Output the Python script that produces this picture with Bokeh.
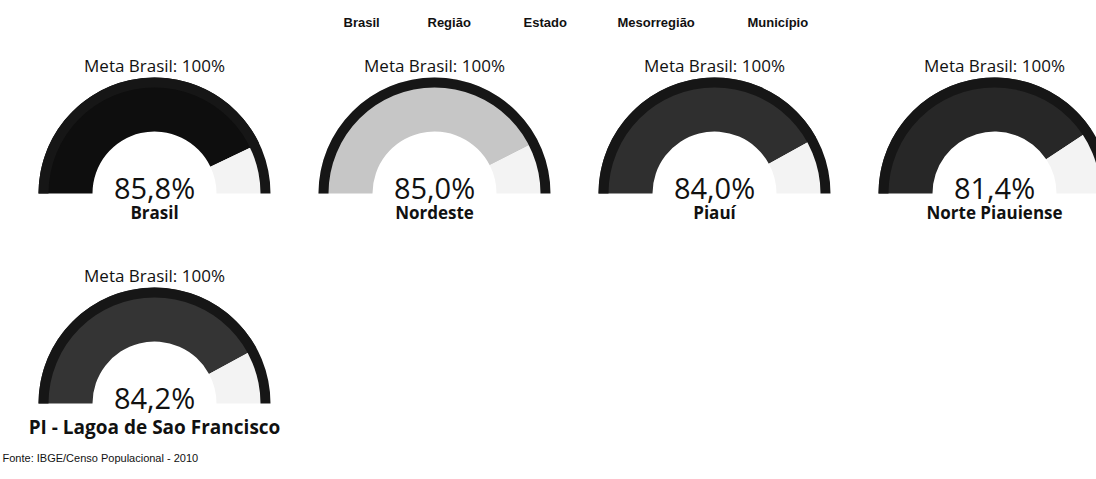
import math
from bokeh.plotting import figure
from bokeh.models import ColumnDataSource
from bokeh.core.properties import value
from bokeh.embed import file_html
from bokeh.resources import INLINE

# ---- data ----
regions = ["Brasil", "Nordeste", "Piauí", "Norte Piauiense", "PI - Lagoa de Sao Francisco"]
values = [85.8, 85.0, 84.0, 81.4, 84.2]
goal_label = "Meta Brasil: 100%"
legend_labels = ["Brasil", "Região", "Estado", "Mesorregião", "Município"]
source_note = "Fonte: IBGE/Censo Populacional - 2010"

# ---- style / layout ----
fill_colors = ["#0e0e0e", "#c6c6c6", "#2f2f2f", "#272727", "#343434"]
name_sizes = [17, 17, 17, 17, 19]
rest_color = "#f3f3f3"
ring_color = "#161616"
W, H = 1096, 479
R_OUT, R_RING, R_IN = 116, 106, 62
n_cols = 4
x0, dx = 154, 280
y0, dy = H - 193, 210

cx = [x0 + dx * (i % n_cols) for i in range(len(regions))]
cy = [y0 - dy * (i // n_cols) for i in range(len(regions))]
val_angle = [math.pi * (1 - v / 100.0) for v in values]
val_text = [("%.1f%%" % v).replace(".", ",") for v in values]

src = ColumnDataSource(dict(
    x=cx, y=cy, a=val_angle, fill=fill_colors, name=regions, vt=val_text,
    goal=[goal_label] * len(regions),
    fs=["%dpx" % s for s in name_sizes],
    y_goal=[c + 128 for c in cy], y_val=[c + 6 for c in cy],
    y_name=[c - 19 - 2 * (s - 17) for c, s in zip(cy, name_sizes)],
))

p = figure(width=W, height=H, x_range=(0, W), y_range=(0, H),
           output_backend="svg", toolbar_location=None,
           x_axis_type=None, y_axis_type=None, min_border=0)
p.grid.visible = False
p.outline_line_color = None
p.background_fill_color = "white"

# filled portion
p.annular_wedge(x="x", y="y", inner_radius=R_IN, outer_radius=R_OUT,
                start_angle="a", end_angle=math.pi, fill_color="fill",
                line_color=None, source=src)
# remaining portion
p.annular_wedge(x="x", y="y", inner_radius=R_IN, outer_radius=R_RING,
                start_angle=0, end_angle="a", fill_color=rest_color,
                line_color=None, source=src)
# outer ring
p.annular_wedge(x="x", y="y", inner_radius=R_RING, outer_radius=R_OUT,
                start_angle=0, end_angle=math.pi, fill_color=ring_color,
                line_color=None, source=src)

p.text(x="x", y="y_goal", text="goal", source=src, text_align="center",
       text_baseline="middle", text_font=value("Open Sans"),
       text_font_size="17px", text_color="#111111")
p.text(x="x", y="y_val", text="vt", source=src, text_align="center",
       text_baseline="middle", text_font=value("Open Sans"),
       text_font_size="29px", text_color="#111111")
p.text(x="x", y="y_name", text="name", source=src, text_align="center",
       text_baseline="middle", text_font=value("Open Sans"),
       text_font_style="bold", text_font_size="fs", text_color="#111111")

# legend (text only; its markers are not visible in the original)
leg_x = [343, 427, 523, 617, 747]
p.text(x=leg_x, y=[H - 22] * len(legend_labels), text=legend_labels,
       text_align="left", text_baseline="middle", text_font=value("Liberation Sans"),
       text_font_style="bold", text_font_size="13px", text_color="#111111")

p.text(x=[2], y=[H - 457], text=[source_note], text_align="left", text_baseline="middle",
       text_font=value("Liberation Sans"), text_font_size="11px", text_color="#111111")

open("out.html", "w").write(file_html(p, INLINE))
